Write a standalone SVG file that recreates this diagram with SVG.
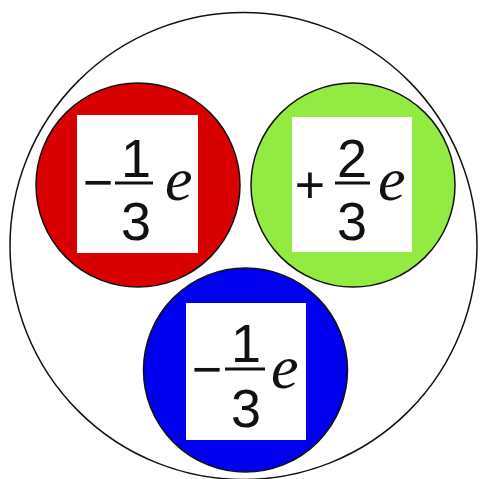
<svg xmlns="http://www.w3.org/2000/svg" width="480" height="479" viewBox="0 0 480 479">
<style>
.q{stroke:#111;stroke-width:1.5}
.box{fill:#fff}
.n{font-family:"Liberation Sans",Arial,sans-serif;font-size:54px;fill:#111;text-anchor:middle}
.s{font-family:"Liberation Sans",Arial,sans-serif;font-size:52px;fill:#111;text-anchor:middle}
.e{font-family:"Liberation Serif",serif;font-style:italic;font-size:62px;fill:#111}
.bar{stroke:#111;stroke-width:3}
</style>
<rect width="480" height="479" fill="#fff"/>
<g id="proton"><circle cx="243.5" cy="246" r="233.5" fill="#fff" stroke="#111" stroke-width="1.5"/></g>
<g id="red">
<circle class="q" cx="138" cy="185" r="102" fill="#d80000"/>
<rect class="box" x="77" y="115" width="121" height="138"/>
<text class="s" x="98" y="200">−</text>
<line class="bar" x1="115" y1="183" x2="153" y2="183"/>
<text class="n" x="136" y="177">1</text>
<text class="n" x="136" y="240">3</text>
<text class="e" x="165" y="200">e</text>
</g>
<g id="green">
<circle class="q" cx="353" cy="185" r="102" fill="#92ea42"/>
<rect class="box" x="292" y="117" width="120" height="135"/>
<text class="s" x="310" y="203">+</text>
<line class="bar" x1="335" y1="183" x2="370" y2="183"/>
<text class="n" x="352" y="177">2</text>
<text class="n" x="352" y="240">3</text>
<text class="e" x="378" y="200">e</text>
</g>
<g id="blue">
<circle class="q" cx="245.5" cy="370" r="102" fill="#0000ee"/>
<rect class="box" x="186" y="303" width="120" height="137"/>
<text class="s" x="207" y="387">−</text>
<line class="bar" x1="225" y1="369" x2="265" y2="369"/>
<text class="n" x="246" y="362">1</text>
<text class="n" x="246" y="427">3</text>
<text class="e" x="271" y="388">e</text>
</g>
</svg>
